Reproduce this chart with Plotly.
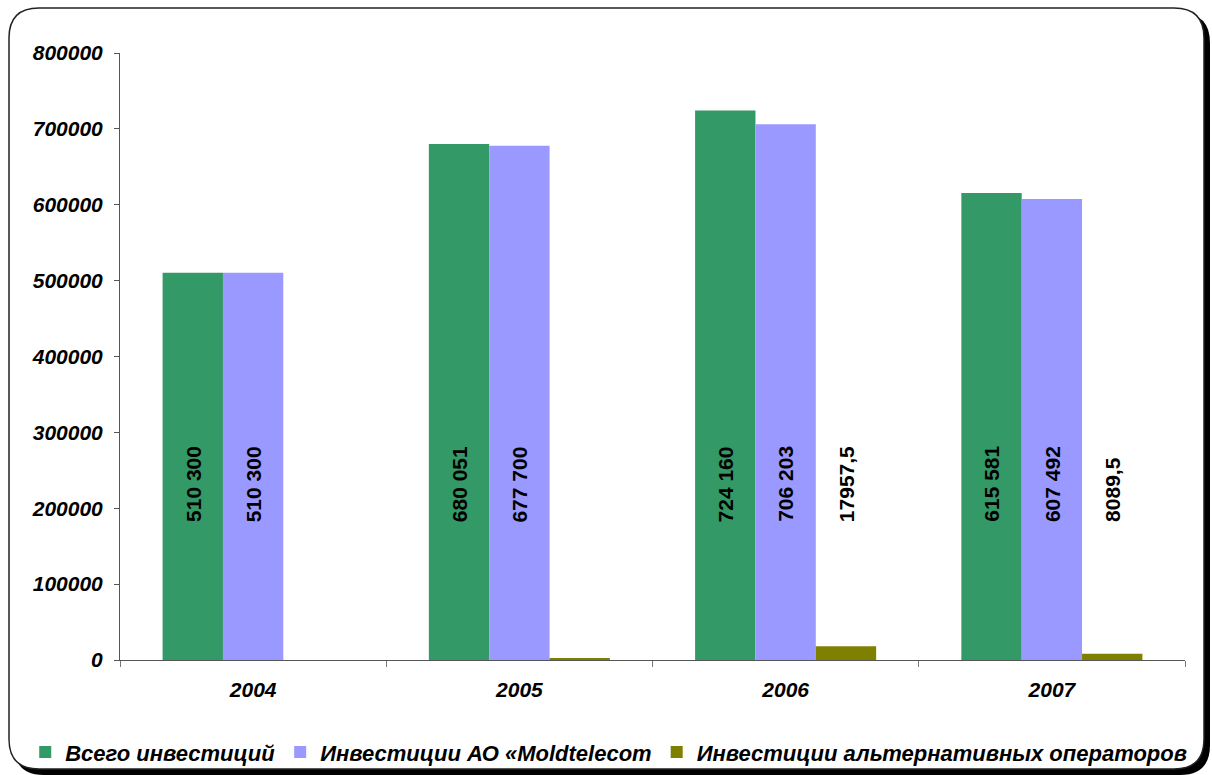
import plotly.graph_objects as go

categories = ["2004", "2005", "2006", "2007"]
series_names = ["Всего инвестиций", "Инвестиции АО «Moldtelecom", "Инвестиции альтернативных операторов"]
total = [510300, 680051, 724160, 615581]
moldtelecom = [510300, 677700, 706203, 607492]
alternative = [None, 2351, 17957.5, 8089.5]
total_labels = ["510 300", "680 051", "724 160", "615 581"]
mold_labels = ["510 300", "677 700", "706 203", "607 492"]
alt_labels = [None, None, "17957,5", "8089,5"]
colors = ["#339966", "#9999FF", "#808000"]
label_level = 179000

FONT = "Liberation Sans, Arial, sans-serif"

fig = go.Figure()
for name, vals, col in zip(series_names, [total, moldtelecom, alternative], colors):
    fig.add_trace(go.Bar(x=categories, y=vals, name=name, marker=dict(color=col, line=dict(width=0))))

bargap = 0.32
w = (1 - bargap) / 3
offsets = [-w, 0, w]
for labels, off in zip([total_labels, mold_labels, alt_labels], offsets):
    for i, t in enumerate(labels):
        if t is None:
            continue
        fig.add_annotation(x=i + off, y=label_level, xref="x", yref="y", text=t,
                           textangle=-90, showarrow=False, yanchor="bottom",
                           font=dict(family=FONT, size=21, color="black", weight="bold"))

# plot area geometry in px
L, R, T, B = 120, 27, 53, 115
W, H = 1212, 775
pw, ph = W - L - R, H - T - B

def px(x):
    return (x - L) / pw

def py(y):
    return (H - B - y) / ph

def rounded(x0, y0, x1, y1, r):
    return (f"M {px(x0 + r)},{py(y0)} L {px(x1 - r)},{py(y0)} "
            f"Q {px(x1)},{py(y0)} {px(x1)},{py(y0 + r)} "
            f"L {px(x1)},{py(y1 - r)} Q {px(x1)},{py(y1)} {px(x1 - r)},{py(y1)} "
            f"L {px(x0 + r)},{py(y1)} Q {px(x0)},{py(y1)} {px(x0)},{py(y1 - r)} "
            f"L {px(x0)},{py(y0 + r)} Q {px(x0)},{py(y0)} {px(x0 + r)},{py(y0)} Z")

fig.add_shape(type="path", xref="paper", yref="paper", path=rounded(14, 13, 1210, 775, 30),
              fillcolor="black", line=dict(width=0), layer="below")
fig.add_shape(type="path", xref="paper", yref="paper", path=rounded(9, 8, 1204, 769, 30),
              fillcolor="white", line=dict(color="#222222", width=1.5), layer="below")

fig.update_layout(
    width=W, height=H,
    margin=dict(l=L, r=R, t=T, b=B, autoexpand=False),
    paper_bgcolor="white", plot_bgcolor="rgba(0,0,0,0)",
    barmode="group", bargap=bargap, bargroupgap=0,
    font=dict(family=FONT, color="black"),
    showlegend=True,
    legend=dict(orientation="h", x=-0.089, xanchor="left", y=-0.152, yanchor="middle",
                font=dict(family=FONT, size=22, style="italic", weight="bold", color="black"),
                bgcolor="rgba(0,0,0,0)", itemwidth=30, tracegroupgap=0),
)
fig.update_xaxes(showgrid=False, showline=True, linecolor="#555555", linewidth=1,
                 ticks="outside", tickson="boundaries", ticklen=6, tickcolor="#777777",
                 tickfont=dict(family=FONT, size=21, style="italic", weight="bold"),
                 ticklabelstandoff=11)
fig.update_yaxes(range=[0, 800000], dtick=100000, showgrid=False, showline=True,
                 linecolor="#555555", linewidth=1, ticks="outside", ticklen=5,
                 tickcolor="#555555", zeroline=False,
                 tickfont=dict(family=FONT, size=21, style="italic", weight="bold"),
                 ticklabelstandoff=7, tickformat="d")

fig.write_html("out.html", config={"displayModeBar": False},
               post_script="document.body.style.margin='0';document.body.style.overflow='hidden';")
